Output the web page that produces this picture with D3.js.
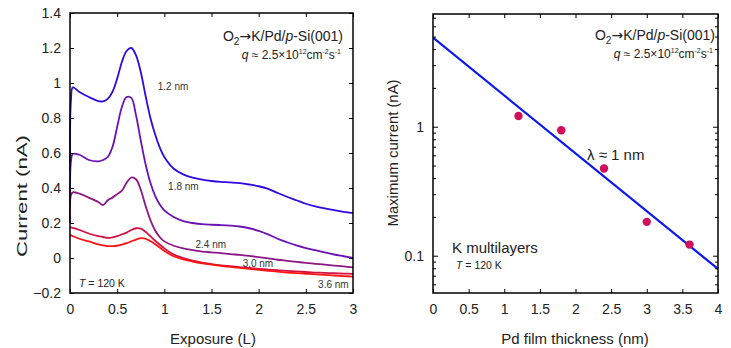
<!DOCTYPE html>
<html>
<head>
<meta charset="utf-8">
<script src="https://cdn.jsdelivr.net/npm/d3@7"></script>
<style>
  body { margin: 0; background: #fff; }
  svg { font-family: "Liberation Sans", Arial, sans-serif; }
</style>
</head>
<body>
<svg id="chart" width="731" height="348"></svg>
<script>
// Left panel: current vs exposure, one series per Pd thickness
const exposure = [0, 0.01, 0.03, 0.1, 0.2, 0.3, 0.35, 0.4, 0.45, 0.5, 0.55, 0.6, 0.65, 0.7, 0.75, 0.8, 0.85, 0.9, 0.95, 1.0,
  1.1, 1.2, 1.3, 1.4, 1.5, 1.6, 1.7, 1.8, 1.9, 2.0, 2.1, 2.2, 2.3, 2.4, 2.5, 2.6, 2.7, 2.8, 2.9, 3.0];

const cur12 = [0.5, 0.9, 0.975, 0.949, 0.92, 0.897, 0.895, 0.909, 0.949, 1.025, 1.12, 1.183, 1.2, 1.158, 1.063, 0.93,
  0.806, 0.71, 0.634, 0.577, 0.51, 0.478, 0.459, 0.448, 0.44, 0.435, 0.432, 0.428, 0.42, 0.41, 0.395, 0.372, 0.35,
  0.33, 0.31, 0.295, 0.283, 0.273, 0.264, 0.257];
const cur18 = [0.3, 0.55, 0.595, 0.59, 0.56, 0.552, 0.56, 0.577, 0.634, 0.749, 0.863, 0.92, 0.915, 0.815, 0.672, 0.539,
  0.434, 0.358, 0.307, 0.272, 0.234, 0.211, 0.2, 0.193, 0.19, 0.188, 0.185, 0.18, 0.17, 0.155, 0.135, 0.11, 0.09,
  0.072, 0.057, 0.045, 0.032, 0.02, 0.01, 0.0];
const cur24 = [0.2, 0.36, 0.375, 0.368, 0.345, 0.32, 0.302, 0.33, 0.345, 0.365, 0.385, 0.43, 0.46, 0.45, 0.39, 0.3,
  0.22, 0.16, 0.12, 0.095, 0.07, 0.055, 0.045, 0.037, 0.032, 0.028, 0.022, 0.018, 0.012, 0.005, -0.002, -0.01, -0.016,
  -0.022, -0.028, -0.033, -0.038, -0.043, -0.048, -0.054];
const cur30 = [0.17, 0.175, 0.172, 0.16, 0.14, 0.125, 0.12, 0.115, 0.118, 0.125, 0.135, 0.145, 0.16, 0.17, 0.168, 0.15,
  0.125, 0.1, 0.077, 0.055, 0.02, 0.0, -0.015, -0.026, -0.035, -0.042, -0.047, -0.052, -0.057, -0.062, -0.066, -0.07,
  -0.074, -0.077, -0.08, -0.083, -0.085, -0.087, -0.089, -0.091];
const cur36 = [0.125, 0.13, 0.125, 0.11, 0.095, 0.078, 0.072, 0.068, 0.068, 0.07, 0.077, 0.085, 0.095, 0.105, 0.113,
  0.11, 0.097, 0.08, 0.06, 0.04, 0.01, -0.008, -0.02, -0.03, -0.038, -0.045, -0.051, -0.057, -0.062, -0.068, -0.073,
  -0.078, -0.083, -0.087, -0.09, -0.093, -0.097, -0.1, -0.103, -0.106];

const seriesNames = ["1.2 nm", "1.8 nm", "2.4 nm", "3.0 nm", "3.6 nm"];
const seriesValues = [cur12, cur18, cur24, cur30, cur36];
const seriesColors = ["#3208e0", "#6a12b4", "#8c1684", "#d41040", "#ff1414"];
const labelPos = [[0.93, 0.96], [1.04, 0.39], [1.33, 0.06], [1.83, -0.05], [2.63, -0.17]];

const leftXTicks = [0, 0.5, 1, 1.5, 2, 2.5, 3];
const leftYTicks = [-0.2, 0, 0.2, 0.4, 0.6, 0.8, 1, 1.2, 1.4];

// Right panel: maximum current vs Pd thickness, with exponential fit (lambda ~ 1 nm)
const thickness = [1.2, 1.8, 2.4, 3.0, 3.6];
const maxCurrent = [1.21, 0.94, 0.475, 0.183, 0.122];
const fitThickness = [0, 4];
const fitCurrent = [4.9, 0.079];
const rightXTicks = [0, 0.5, 1, 1.5, 2, 2.5, 3, 3.5, 4];

const svg = d3.select("#chart");
svg.append("rect").attr("width", 731).attr("height", 348).attr("fill", "#fff");

// ---------- left panel ----------
const L = { left: 70, right: 353, top: 13, bottom: 293 };
const xL = d3.scaleLinear().domain([0, 3]).range([L.left, L.right]);
const yL = d3.scaleLinear().domain([-0.2, 1.4]).range([L.bottom, L.top]);

const gL = svg.append("g");
const line = d3.line()
  .x((d) => xL(d[0]))
  .y((d) => yL(d[1]))
  .curve(d3.curveCatmullRom.alpha(0.5));

seriesValues.forEach((vals, i) => {
  gL.append("path")
    .datum(exposure.map((x, j) => [x, vals[j]]))
    .attr("fill", "none")
    .attr("stroke", seriesColors[i])
    .attr("stroke-width", 1.8)
    .attr("d", line);
});

seriesNames.forEach((name, i) => {
  gL.append("text")
    .attr("x", xL(labelPos[i][0]))
    .attr("y", yL(labelPos[i][1]))
    .attr("font-size", 10)
    .attr("fill", "#333")
    .text(name);
});

// axes with inward ticks on all four sides
const axisStyle = (g) => {
  g.select(".domain").remove();
  g.selectAll("line").attr("stroke", "#000");
  g.selectAll("text").attr("font-size", 14).attr("fill", "#222")
    .attr("font-family", "Liberation Sans, Arial, sans-serif");
};

gL.append("g").attr("transform", `translate(0,${L.bottom})`)
  .call(d3.axisBottom(xL).tickValues(leftXTicks).tickFormat(d3.format("")).tickSizeInner(-4).tickPadding(11))
  .call(axisStyle);
gL.append("g").attr("transform", `translate(0,${L.top})`)
  .call(d3.axisTop(xL).tickValues(leftXTicks).tickSizeInner(-4).tickFormat(""))
  .call(axisStyle);
gL.append("g").attr("transform", `translate(${L.left},0)`)
  .call(d3.axisLeft(yL).tickValues(leftYTicks).tickFormat(d3.format("")).tickSizeInner(-4).tickPadding(9))
  .call(axisStyle);
gL.append("g").attr("transform", `translate(${L.right},0)`)
  .call(d3.axisRight(yL).tickValues(leftYTicks).tickSizeInner(-4).tickFormat(""))
  .call(axisStyle);

gL.append("rect")
  .attr("x", L.left).attr("y", L.top)
  .attr("width", L.right - L.left).attr("height", L.bottom - L.top)
  .attr("fill", "none").attr("stroke", "#000").attr("stroke-width", 1.5);

gL.append("text")
  .attr("x", 213).attr("y", 344)
  .attr("text-anchor", "middle").attr("font-size", 15).attr("fill", "#222")
  .text("Exposure (L)");
gL.append("text")
  .attr("transform", "translate(27,196) rotate(-90)")
  .attr("text-anchor", "middle").attr("font-size", 15).attr("fill", "#222")
  .attr("textLength", 122).attr("lengthAdjust", "spacingAndGlyphs")
  .text("Current (nA)");

const tempLabel = (g, x, y) => {
  const t = g.append("text").attr("x", x).attr("y", y).attr("font-size", 10.5).attr("fill", "#222");
  t.append("tspan").attr("font-style", "italic").text("T");
  t.append("tspan").text(" = 120 K");
};
tempLabel(gL, 79, 287);

const titleBlock = (g, xRight, y) => {
  const t1 = g.append("text").attr("x", xRight).attr("y", y)
    .attr("text-anchor", "end").attr("font-size", 14).attr("fill", "#222");
  t1.append("tspan").text("O");
  t1.append("tspan").attr("font-size", 10).attr("dy", 4).text("2");
  t1.append("tspan").attr("dy", -4).attr("font-family", "DejaVu Sans").text("\u2192");
  t1.append("tspan").text("K/Pd/");
  t1.append("tspan").attr("font-style", "italic").text("p");
  t1.append("tspan").text("-Si(001)");

  const t2 = g.append("text").attr("x", xRight - 2).attr("y", y + 18)
    .attr("text-anchor", "end").attr("font-size", 12).attr("fill", "#222");
  t2.append("tspan").attr("font-style", "italic").text("q");
  t2.append("tspan").text(" \u2248 2.5\u00d710");
  t2.append("tspan").attr("font-size", 7).attr("dy", -5).text("12");
  t2.append("tspan").attr("dy", 5).text("cm");
  t2.append("tspan").attr("font-size", 7).attr("dy", -5).text("-2");
  t2.append("tspan").attr("dy", 5).text("s");
  t2.append("tspan").attr("font-size", 7).attr("dy", -5).text("-1");
};
titleBlock(gL, 343, 41);

// ---------- right panel ----------
const R = { left: 433, right: 718, top: 14, bottom: 293 };
const xR = d3.scaleLinear().domain([0, 4]).range([R.left, R.right]);
const yR = d3.scaleLog().domain([0.0514, 7.48]).range([R.bottom, R.top]);

const gR = svg.append("g");
svg.append("clipPath").attr("id", "clipR").append("rect")
  .attr("x", R.left).attr("y", R.top).attr("width", R.right - R.left).attr("height", R.bottom - R.top);

gR.append("path")
  .datum(fitThickness.map((x, i) => [x, fitCurrent[i]]))
  .attr("clip-path", "url(#clipR)")
  .attr("fill", "none").attr("stroke", "#0a18f0").attr("stroke-width", 2.2)
  .attr("d", d3.line().x((d) => xR(d[0])).y((d) => yR(d[1])));

gR.selectAll("circle")
  .data(thickness.map((x, i) => [x, maxCurrent[i]]))
  .join("circle")
  .attr("cx", (d) => xR(d[0])).attr("cy", (d) => yR(d[1]))
  .attr("r", 4.2).attr("fill", "#d0105c");

const logTicks = yR.ticks().filter((v) => v >= 0.0514 && v <= 7.48);
const majorLog = [0.1, 1];
const minorLog = logTicks.filter((v) => !majorLog.some((m) => Math.abs(m - v) < 1e-9));

gR.append("g").attr("transform", `translate(0,${R.bottom})`)
  .call(d3.axisBottom(xR).tickValues(rightXTicks).tickFormat(d3.format("")).tickSizeInner(-4).tickPadding(11))
  .call(axisStyle);
gR.append("g").attr("transform", `translate(0,${R.top})`)
  .call(d3.axisTop(xR).tickValues(rightXTicks).tickSizeInner(-4).tickFormat(""))
  .call(axisStyle);
gR.append("g").attr("transform", `translate(${R.left},0)`)
  .call(d3.axisLeft(yR).tickValues(majorLog).tickFormat(d3.format("")).tickSizeInner(-5).tickPadding(9))
  .call(axisStyle);
gR.append("g").attr("transform", `translate(${R.left},0)`)
  .call(d3.axisLeft(yR).tickValues(minorLog).tickSizeInner(-3).tickFormat(""))
  .call(axisStyle);
gR.append("g").attr("transform", `translate(${R.right},0)`)
  .call(d3.axisRight(yR).tickValues(majorLog).tickSizeInner(-5).tickFormat(""))
  .call(axisStyle);
gR.append("g").attr("transform", `translate(${R.right},0)`)
  .call(d3.axisRight(yR).tickValues(minorLog).tickSizeInner(-3).tickFormat(""))
  .call(axisStyle);

gR.append("rect")
  .attr("x", R.left).attr("y", R.top)
  .attr("width", R.right - R.left).attr("height", R.bottom - R.top)
  .attr("fill", "none").attr("stroke", "#000").attr("stroke-width", 1.5);

gR.append("text")
  .attr("x", 575).attr("y", 344)
  .attr("text-anchor", "middle").attr("font-size", 15).attr("fill", "#222")
  .text("Pd film thickness (nm)");
gR.append("text")
  .attr("transform", "translate(398,153) rotate(-90)")
  .attr("text-anchor", "middle").attr("font-size", 15).attr("fill", "#222")
  .attr("textLength", 147).attr("lengthAdjust", "spacingAndGlyphs")
  .text("Maximum current (nA)");

gR.append("text").attr("x", 587).attr("y", 160).attr("font-size", 15).attr("fill", "#222")
  .text("\u03bb \u2248 1 nm");
gR.append("text").attr("x", 452).attr("y", 253).attr("font-size", 15).attr("fill", "#222")
  .text("K multilayers");
tempLabel(gR, 456, 269);
titleBlock(gR, 715, 40);
</script>
</body>
</html>
